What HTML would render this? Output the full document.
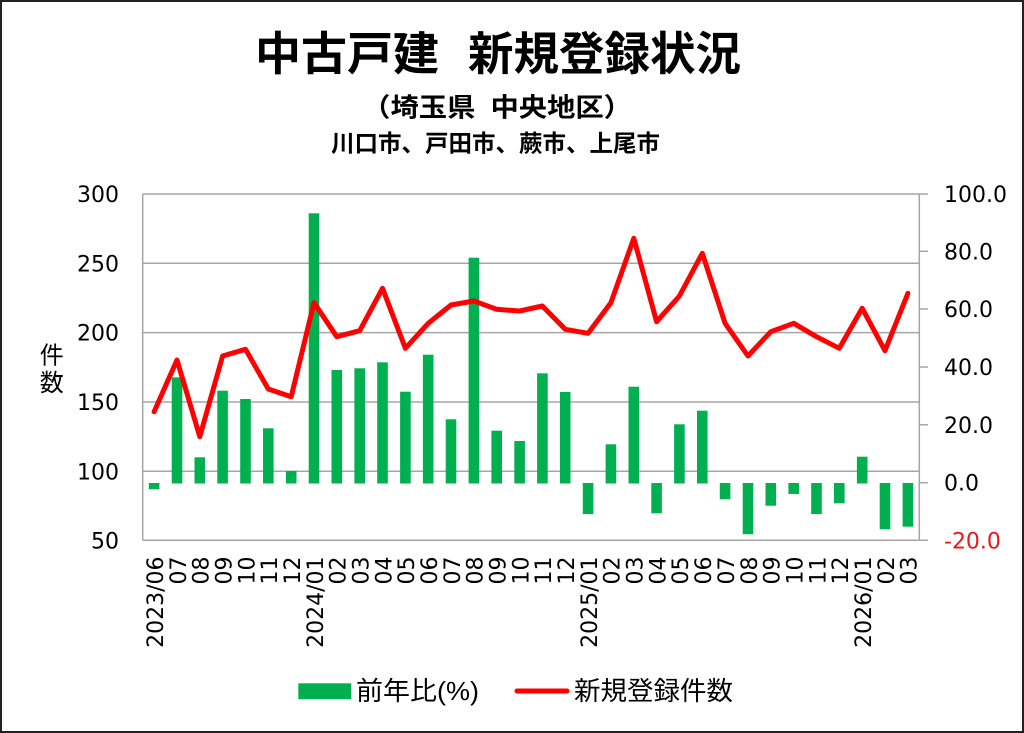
<!DOCTYPE html>
<html><head><meta charset="utf-8"><style>
html,body{margin:0;padding:0;background:#fff;}
svg{display:block;}
.num{font-family:"DejaVu Sans","Liberation Sans",sans-serif;font-size:22px;fill:#000;}
.jp{font-family:"Liberation Sans","Noto Sans CJK JP",sans-serif;fill:#000;}
.xl text{font-family:"DejaVu Sans","Liberation Sans",sans-serif;font-size:22px;fill:#000;text-anchor:end;}
</style></head><body>
<svg width="1024" height="733" viewBox="0 0 1024 733" xmlns="http://www.w3.org/2000/svg">
<rect x="0" y="0" width="1024" height="733" fill="#fff"/>
<rect x="1" y="1" width="1022" height="731" fill="none" stroke="#222" stroke-width="2"/>

<!-- titles -->
<text class="jp" x="255" y="70" font-size="46" font-weight="bold" textLength="184" lengthAdjust="spacingAndGlyphs">中古戸建</text>
<text class="jp" x="468" y="70" font-size="46" font-weight="bold" textLength="273" lengthAdjust="spacingAndGlyphs">新規登録状況</text>
<text class="jp" x="362.2" y="116.5" font-size="26" font-weight="bold" textLength="113.2" lengthAdjust="spacingAndGlyphs">（埼玉県</text>
<text class="jp" x="490.5" y="116.5" font-size="26" font-weight="bold" textLength="141.5" lengthAdjust="spacingAndGlyphs">中央地区）</text>
<text class="jp" x="331" y="151.5" font-size="23.5" font-weight="bold" textLength="329" lengthAdjust="spacingAndGlyphs">川口市、戸田市、蕨市、上尾市</text>

<!-- gridlines -->
<g stroke="#A6A6A6" stroke-width="1.5" fill="none">
<line x1="142.7" y1="194" x2="919.3" y2="194"/>
<line x1="142.7" y1="263.3" x2="919.3" y2="263.3"/>
<line x1="142.7" y1="332.6" x2="919.3" y2="332.6"/>
<line x1="142.7" y1="402" x2="919.3" y2="402"/>
<line x1="142.7" y1="471.3" x2="919.3" y2="471.3"/>
<line x1="142.7" y1="540.3" x2="919.3" y2="540.3"/>
<line x1="142.7" y1="194" x2="142.7" y2="540.3"/>
<line x1="919.3" y1="194" x2="919.3" y2="540.3"/>
<line x1="919.3" y1="194" x2="928" y2="194"/>
<line x1="919.3" y1="251.3" x2="928" y2="251.3"/>
<line x1="919.3" y1="309" x2="928" y2="309"/>
<line x1="919.3" y1="367" x2="928" y2="367"/>
<line x1="919.3" y1="424.8" x2="928" y2="424.8"/>
<line x1="919.3" y1="482.7" x2="928" y2="482.7"/>
<line x1="919.3" y1="540.3" x2="928" y2="540.3"/>
</g>

<!-- bars -->
<g fill="#00B050">
<rect x="148.8" y="483" width="10.6" height="6.3"/>
<rect x="171.7" y="377.3" width="10.6" height="106.2"/>
<rect x="194.5" y="457.3" width="10.6" height="26.2"/>
<rect x="217.3" y="390.7" width="10.6" height="92.8"/>
<rect x="240.2" y="399" width="10.6" height="84.5"/>
<rect x="263.0" y="428.3" width="10.6" height="55.2"/>
<rect x="285.9" y="471" width="10.6" height="12.5"/>
<rect x="308.7" y="213.3" width="10.6" height="270.2"/>
<rect x="331.5" y="370" width="10.6" height="113.5"/>
<rect x="354.4" y="368.3" width="10.6" height="115.2"/>
<rect x="377.2" y="362.3" width="10.6" height="121.2"/>
<rect x="400.1" y="391.7" width="10.6" height="91.8"/>
<rect x="422.9" y="354.7" width="10.6" height="128.8"/>
<rect x="445.7" y="419.3" width="10.6" height="64.2"/>
<rect x="468.6" y="257.7" width="10.6" height="225.8"/>
<rect x="491.4" y="430.7" width="10.6" height="52.8"/>
<rect x="514.3" y="441" width="10.6" height="42.5"/>
<rect x="537.1" y="373.3" width="10.6" height="110.2"/>
<rect x="559.9" y="392" width="10.6" height="91.5"/>
<rect x="582.8" y="483" width="10.6" height="31"/>
<rect x="605.6" y="444.3" width="10.6" height="39.2"/>
<rect x="628.5" y="386.7" width="10.6" height="96.8"/>
<rect x="651.3" y="483" width="10.6" height="30.3"/>
<rect x="674.1" y="424.3" width="10.6" height="59.2"/>
<rect x="697.0" y="410.7" width="10.6" height="72.8"/>
<rect x="719.8" y="483" width="10.6" height="16.3"/>
<rect x="742.7" y="483" width="10.6" height="51.2"/>
<rect x="765.5" y="483" width="10.6" height="22.7"/>
<rect x="788.4" y="483" width="10.6" height="11"/>
<rect x="811.2" y="483" width="10.6" height="31"/>
<rect x="834.0" y="483" width="10.6" height="20.3"/>
<rect x="856.9" y="456.7" width="10.6" height="26.8"/>
<rect x="879.7" y="483" width="10.6" height="46.3"/>
<rect x="902.6" y="483" width="10.6" height="43.7"/>
</g>

<!-- line -->
<polyline fill="none" stroke="#FF0000" stroke-width="5" stroke-linejoin="round" stroke-linecap="round"
points="154.1,411.7 177.0,360 199.8,436.7 222.6,356 245.5,349.3 268.3,389 291.2,396.7 314.0,302.7 336.8,336.7 359.7,330.7 382.5,288.3 405.4,348.3 428.2,323.3 451.0,305 473.9,301 496.7,309.3 519.6,311 542.4,306 565.2,329.3 588.1,333.3 610.9,302.7 633.8,238.3 656.6,321.7 679.4,296 702.3,253.3 725.1,323.3 748.0,356 770.8,331.7 793.7,323.3 816.5,336.7 839.3,348.3 862.2,308.3 885.0,350.7 907.9,293.3"/>

<!-- left axis labels -->
<g class="num" text-anchor="end">
<text x="119" y="202">300</text>
<text x="119" y="271.3">250</text>
<text x="119" y="340.6">200</text>
<text x="119" y="410">150</text>
<text x="119" y="479.3">100</text>
<text x="119" y="548.3">50</text>
</g>
<!-- right axis labels -->
<g class="num" text-anchor="start">
<text x="944" y="202">100.0</text>
<text x="944" y="259.3">80.0</text>
<text x="944" y="317">60.0</text>
<text x="944" y="375">40.0</text>
<text x="944" y="432.8">20.0</text>
<text x="944" y="490.7">0.0</text>
<text x="944" y="548.3" fill="#E8191A" style="fill:#E8191A">-20.0</text>
</g>

<!-- y axis title -->
<text class="jp" x="51.7" y="363.5" font-size="24" text-anchor="middle">件</text>
<text class="jp" x="51.7" y="391" font-size="24" text-anchor="middle">数</text>

<!-- x labels -->
<g class="xl">
<text transform="translate(162.9,556.5) rotate(-90)">2023/06</text>
<text transform="translate(185.8,556.5) rotate(-90)">07</text>
<text transform="translate(208.6,556.5) rotate(-90)">08</text>
<text transform="translate(231.4,556.5) rotate(-90)">09</text>
<text transform="translate(254.3,556.5) rotate(-90)">10</text>
<text transform="translate(277.1,556.5) rotate(-90)">11</text>
<text transform="translate(300.0,556.5) rotate(-90)">12</text>
<text transform="translate(322.8,556.5) rotate(-90)">2024/01</text>
<text transform="translate(345.6,556.5) rotate(-90)">02</text>
<text transform="translate(368.5,556.5) rotate(-90)">03</text>
<text transform="translate(391.3,556.5) rotate(-90)">04</text>
<text transform="translate(414.2,556.5) rotate(-90)">05</text>
<text transform="translate(437.0,556.5) rotate(-90)">06</text>
<text transform="translate(459.8,556.5) rotate(-90)">07</text>
<text transform="translate(482.7,556.5) rotate(-90)">08</text>
<text transform="translate(505.5,556.5) rotate(-90)">09</text>
<text transform="translate(528.4,556.5) rotate(-90)">10</text>
<text transform="translate(551.2,556.5) rotate(-90)">11</text>
<text transform="translate(574.0,556.5) rotate(-90)">12</text>
<text transform="translate(596.9,556.5) rotate(-90)">2025/01</text>
<text transform="translate(619.7,556.5) rotate(-90)">02</text>
<text transform="translate(642.6,556.5) rotate(-90)">03</text>
<text transform="translate(665.4,556.5) rotate(-90)">04</text>
<text transform="translate(688.2,556.5) rotate(-90)">05</text>
<text transform="translate(711.1,556.5) rotate(-90)">06</text>
<text transform="translate(733.9,556.5) rotate(-90)">07</text>
<text transform="translate(756.8,556.5) rotate(-90)">08</text>
<text transform="translate(779.6,556.5) rotate(-90)">09</text>
<text transform="translate(802.5,556.5) rotate(-90)">10</text>
<text transform="translate(825.3,556.5) rotate(-90)">11</text>
<text transform="translate(848.1,556.5) rotate(-90)">12</text>
<text transform="translate(871.0,556.5) rotate(-90)">2026/01</text>
<text transform="translate(893.8,556.5) rotate(-90)">02</text>
<text transform="translate(916.7,556.5) rotate(-90)">03</text>
</g>

<!-- legend -->
<rect x="298.3" y="683.3" width="53" height="16" fill="#00B050"/>
<text class="jp" x="356" y="700" font-size="26" textLength="123" lengthAdjust="spacingAndGlyphs">前年比(%)</text>
<line x1="517" y1="691" x2="567" y2="691" stroke="#FF0000" stroke-width="5" stroke-linecap="round"/>
<text class="jp" x="574" y="700" font-size="26" textLength="159" lengthAdjust="spacingAndGlyphs">新規登録件数</text>
</svg>
</body></html>
